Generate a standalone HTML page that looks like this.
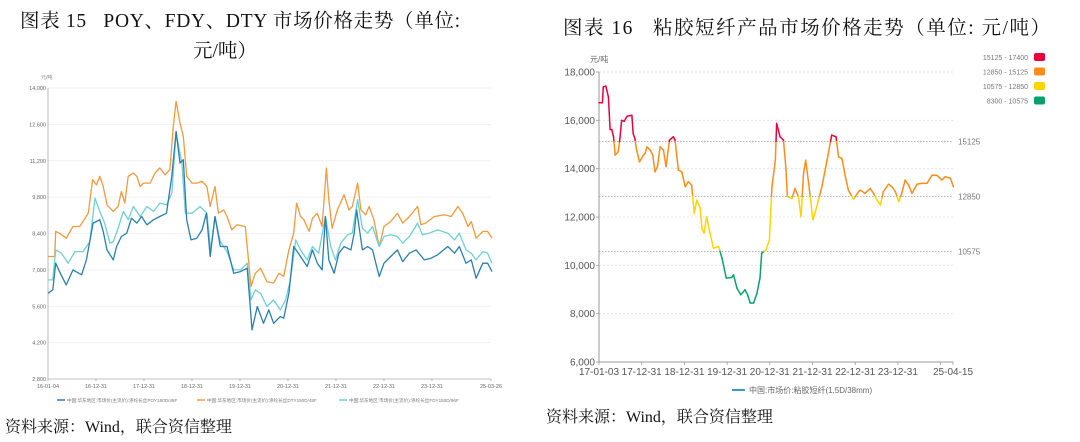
<!DOCTYPE html>
<html><head><meta charset="utf-8"><style>
html,body{margin:0;padding:0;background:#fff;width:1080px;height:442px;overflow:hidden}
svg{display:block}
.t{font-family:"Liberation Serif","Noto Serif CJK SC",serif;fill:#111;white-space:pre}
.s{font-family:"Liberation Sans","Noto Sans CJK SC",sans-serif}
</style></head><body>
<svg id="root" width="1080" height="442" viewBox="0 0 1080 442" xmlns="http://www.w3.org/2000/svg">
<text class="t" x="20" y="27" font-size="19.5" textLength="440" lengthAdjust="spacing">图表 15   POY、FDY、DTY 市场价格走势（单位:</text>
<text class="t" x="193" y="57" font-size="19.5">元/吨）</text>
<text class="t" x="563" y="34" font-size="19.5" textLength="487" lengthAdjust="spacing">图表 16   粘胶短纤产品市场价格走势（单位: 元/吨）</text>
<text class="t" x="5" y="432" font-size="16">资料来源：Wind，联合资信整理</text>
<text class="t" x="546" y="422" font-size="16">资料来源：Wind，联合资信整理</text>
<g id="left"></g>
<g id="right"></g>
</svg>
<script>
// ---------- Left chart data (years since 2016-01-01, price yuan/t) ----------
const leftTicksY = [2800,4200,5600,7000,8400,9800,11200,12600,14000];
const leftTickLabelsY = ["2,800","4,200","5,600","7,000","8,400","9,800","11,200","12,600","14,000"];
const leftTicksX = [0,1,2,3,4,5,6,7,8,9.23];
const leftTickLabelsX = ["16-01-04","16-12-31","17-12-31","18-12-31","19-12-31","20-12-31","21-12-31","22-12-31","23-12-31","25-03-26"];
const dtyT = [0,.14,.16,.24,.38,.52,.66,.84,.93,1.01,1.08,1.15,1.23,1.36,1.46,1.53,1.60,1.67,1.78,1.85,1.92,1.99,2.13,2.23,2.33,2.44,2.54,2.61,2.67,2.75,2.82,2.89,3.00,3.10,3.21,3.31,3.38,3.48,3.55,3.66,3.73,3.83,3.94,4.11,4.15,4.23,4.32,4.43,4.56,4.70,4.81,4.91,5.02,5.12,5.18,5.26,5.33,5.44,5.51,5.61,5.71,5.80,5.85,5.92,6.03,6.17,6.27,6.34,6.45,6.52,6.62,6.69,6.79,6.90,7.00,7.14,7.28,7.39,7.53,7.70,7.77,7.87,8.05,8.26,8.40,8.54,8.64,8.75,8.82,8.92,9.06,9.16,9.25];
const dtyV = [7515,7515,8480,8410,8220,8670,8670,9180,10470,10275,10600,10210,9505,9250,9440,10020,9570,10600,10725,10600,10210,10340,10340,10725,10920,10660,10860,12520,13490,12650,12140,10600,10340,10340,10410,10210,9440,10210,9180,9310,9055,8540,8735,8670,7900,6360,6870,7065,6550,6490,6870,6745,7770,8410,9570,9055,8930,8480,8990,9180,8670,10920,9700,8605,9310,9890,9310,9440,10340,9310,9120,9440,8930,7900,8670,8860,9180,8800,9055,9440,8735,8800,9055,9120,9055,9440,9180,8670,8860,8220,8480,8480,8220];
const poyT = [0,.10,.16,.24,.38,.52,.70,.80,.94,1.01,1.08,1.15,1.23,1.36,1.43,1.53,1.64,1.74,1.85,1.95,2.06,2.20,2.33,2.47,2.58,2.67,2.75,2.82,2.89,2.98,3.10,3.21,3.30,3.38,3.48,3.59,3.73,3.87,4.01,4.15,4.22,4.25,4.36,4.49,4.60,4.70,4.84,4.91,5.02,5.12,5.26,5.40,5.51,5.61,5.71,5.78,5.85,5.96,6.06,6.17,6.31,6.38,6.43,6.55,6.66,6.76,6.90,7.00,7.14,7.28,7.39,7.53,7.67,7.84,7.98,8.12,8.33,8.47,8.57,8.71,8.82,8.92,9.06,9.16,9.25];
const poyV = [6100,6230,7255,6935,6420,7000,6810,7385,8800,8860,8930,8480,7770,7385,7900,8285,8410,8990,8800,9055,8735,8930,9055,9180,10600,12330,11110,11240,8930,8155,8220,8540,9180,7515,9055,7900,7900,6870,6935,7065,5460,4690,5590,4945,5460,4945,5200,5140,6100,7900,7515,7130,7770,7255,7000,9055,7385,6870,7640,7900,7770,8410,9310,7770,7900,7770,6745,7255,7515,7770,7320,7640,7770,7385,7450,7580,7900,7640,7900,7255,7385,6680,7255,7255,6935];
const fdyT = [0,.10,.16,.28,.42,.56,.73,.87,.98,1.08,1.18,1.29,1.36,1.46,1.57,1.67,1.78,1.92,2.06,2.20,2.33,2.47,2.58,2.67,2.79,2.86,3.00,3.17,3.31,3.39,3.48,3.59,3.73,3.87,4.01,4.15,4.23,4.32,4.43,4.56,4.70,4.84,4.95,5.05,5.16,5.26,5.40,5.51,5.64,5.78,5.89,5.99,6.10,6.24,6.34,6.45,6.55,6.66,6.76,6.90,7.00,7.14,7.28,7.39,7.53,7.70,7.80,7.94,8.12,8.33,8.47,8.57,8.71,8.82,8.92,9.06,9.16,9.25];
const fdyV = [6615,6615,7770,7640,7255,7705,7705,8090,9760,9250,8800,8030,8090,8605,9250,8930,9440,9055,9440,9250,9570,9505,9955,12270,11110,9180,9180,9440,9180,7770,9055,8090,7705,7000,7000,7255,5850,6230,6100,5590,5845,5460,5845,6615,8155,7770,7385,7900,7640,9055,7900,7385,8030,8350,8410,9700,8605,8410,8670,7900,8285,8350,8285,8030,8285,8800,8350,8410,8540,8410,8155,8410,7770,7640,7385,7705,7640,7255];

// ---------- Right chart data (years since 2017-01-01, price yuan/t) ----------
const rightTicksY = [6000,8000,10000,12000,14000,16000,18000];
const rightTickLabelsY = ["6,000","8,000","10,000","12,000","14,000","16,000","18,000"];
const rightTicksX = [0,1,2,3,4,5,6,7,8,8.29];
const rightTickLabelsX = ["17-01-03","17-12-31","18-12-31","19-12-31","20-12-31","21-12-31","22-12-31","23-12-31","","25-04-15"];
const bandEdges = [10575,12850,15125];
const bandLabels = ["15125 - 17400","12850 - 15125","10575 - 12850","8300 - 10575"];
const vscT = [0,.08,.10,.16,.22,.26,.30,.34,.38,.45,.49,.53,.59,.66,.77,.80,.84,.88,.95,1.04,1.08,1.12,1.20,1.26,1.31,1.37,1.43,1.51,1.57,1.65,1.74,1.78,1.86,1.94,2.02,2.09,2.17,2.23,2.29,2.37,2.41,2.46,2.52,2.60,2.68,2.80,2.88,2.98,3.11,3.15,3.23,3.32,3.42,3.48,3.54,3.62,3.70,3.77,3.81,3.91,3.99,4.05,4.13,4.16,4.24,4.32,4.38,4.41,4.52,4.59,4.67,4.73,4.79,4.84,4.91,5.01,5.10,5.22,5.34,5.45,5.55,5.61,5.69,5.77,5.84,5.96,6.08,6.12,6.23,6.35,6.43,6.51,6.59,6.66,6.78,6.86,6.94,7.02,7.09,7.17,7.25,7.33,7.45,7.56,7.68,7.80,7.91,8.03,8.11,8.23,8.30];
const vscV = [16730,16730,17380,17420,16970,15620,15620,15320,14560,14700,15250,16000,15960,16170,16210,15450,15250,14770,14280,14560,14630,14900,14770,14560,13870,14080,14900,14770,14080,15180,15320,15180,13940,13870,13250,13460,13320,12150,12700,12360,11530,11330,12010,11330,10710,10780,10300,9470,9500,9610,9060,8780,8990,8780,8440,8440,8850,9470,10500,10640,11050,13250,14350,15870,15320,15180,13940,12840,12770,13180,12840,12010,13800,14350,13390,11880,12430,13250,14350,15390,15320,14490,14420,13670,13110,12730,13050,13110,12980,13180,12980,12700,12500,13050,13360,13250,13050,12630,12980,13530,13320,12980,13360,13390,13390,13730,13730,13530,13670,13600,13250];

const NS="http://www.w3.org/2000/svg";
function mk(tag, attrs, parent, txt){const e=document.createElementNS(NS,tag);for(const k in attrs)e.setAttribute(k,attrs[k]);if(txt!==undefined)e.textContent=txt;parent.appendChild(e);return e;}

// ---- Left chart ----
(function(){
  const g=document.getElementById('left');
  const x0=48,x1=491,y0=379,y1=88;
  const xs=t=>x0+(t-0)/(9.23)*(x1-x0);
  const ys=v=>y0-(v-2800)/(14000-2800)*(y0-y1);
  const u=mk('text',{x:41,y:79,'font-size':5,fill:'#888',class:'s'},g,'元/吨');
  
  
  leftTicksY.forEach((v,i)=>{
    if(i>0){const l=mk('line',{x1:x0,x2:x1,y1:ys(v),y2:ys(v),stroke:'#ececec','stroke-width':0.8},g);
      
      }
    const t=mk('text',{x:x0-2,y:ys(v)+2,'font-size':5.5,fill:'#666','text-anchor':'end',class:'s'},g,leftTickLabelsY[i]);
    
    
  });
  const ax=mk('path',{d:`M${x0},${y1}V${y0}H${x1}`,stroke:'#aaa','stroke-width':0.8,fill:'none'},g);
  
  
  leftTicksX.forEach((t,i)=>{
    mk('line',{x1:xs(t),x2:xs(t),y1:y0,y2:y0+2,stroke:'#aaa','stroke-width':0.8},g);
    const tx=mk('text',{x:xs(t),y:y0+9,'font-size':5.5,fill:'#666','text-anchor':'middle',class:'s'},g,leftTickLabelsX[i]);
    
    
  });
  const series=[[poyT,poyV,'#2a7fb0','poy-line'],[dtyT,dtyV,'#f39a3c','dty-line'],[fdyT,fdyV,'#6fd0d4','fdy-line']];
  [series[1],series[2],series[0]].forEach(s=>{
    const d=s[0].map((t,i)=>(i?'L':'M')+xs(t).toFixed(1)+','+ys(s[1][i]).toFixed(1)).join('');
    const p=mk('path',{d:d,stroke:s[2],'stroke-width':1.3,fill:'none','stroke-linejoin':'round'},g);
    
    
  });
  const leg=[[57,'#2a7fb0','中国:华东地区:市场价(主流价):涤纶长丝POY150D/48F'],[197,'#f39a3c','中国:华东地区:市场价(主流价):涤纶长丝DTY150D/48F'],[339,'#6fd0d4','中国:华东地区:市场价(主流价):涤纶长丝FDY150D/96F']];
  leg.forEach(L=>{
    const gg=mk('g',{},g);
    
    
    mk('line',{x1:L[0],x2:L[0]+8,y1:400,y2:400,stroke:L[1],'stroke-width':1.5},gg);
    mk('text',{x:L[0]+10,y:402,'font-size':4.6,fill:'#777',class:'s'},gg,L[2]);
  });
})();

// ---- Right chart ----
(function(){
  const g=document.getElementById('right');
  const x0=599,x1=953,y0=362,y1=72;
  const xs=t=>x0+t/8.29*(x1-x0);
  const ys=v=>y0-(v-6000)/12000*(y0-y1);
  const colors=['#0aa06e','#ffd400','#ff8c1a','#e8003d'];
  const band=v=>v<bandEdges[0]?0:v<bandEdges[1]?1:v<bandEdges[2]?2:3;
  const u=mk('text',{x:590,y:62,'font-size':8,fill:'#666',class:'s'},g,'元/吨');
  
  
  rightTicksY.forEach((v,i)=>{
    if(i>0){const l=mk('line',{x1:x0,x2:x1,y1:ys(v),y2:ys(v),stroke:'#ddd','stroke-width':0.8,'stroke-dasharray':'2,2'},g);
      
      }
    mk('line',{x1:x0-3,x2:x0,y1:ys(v),y2:ys(v),stroke:'#999','stroke-width':0.8},g);
    const t=mk('text',{x:x0-4,y:ys(v)+3.5,'font-size':10,fill:'#555','text-anchor':'end',class:'s'},g,rightTickLabelsY[i]);
    
    
  });
  bandEdges.forEach(v=>{
    const l=mk('line',{x1:x0,x2:x1,y1:ys(v),y2:ys(v),stroke:'#aaa','stroke-width':0.9,'stroke-dasharray':'1.5,1.5'},g);
    
    
    const t=mk('text',{x:x1+5,y:ys(v)+3,'font-size':8,fill:'#777',class:'s'},g,String(v));
    
    
  });
  const ax=mk('path',{d:`M${x0},${y1}V${y0}H${x1}`,stroke:'#999','stroke-width':1,fill:'none'},g);
  
  
  rightTicksX.forEach((t,i)=>{
    mk('line',{x1:xs(t),x2:xs(t),y1:y0,y2:y0+3,stroke:'#999','stroke-width':0.8},g);
    const tx=mk('text',{x:xs(t),y:y0+13,'font-size':10,fill:'#555','text-anchor':'middle',class:'s'},g,rightTickLabelsX[i]);
    
    
  });
  const lg=mk('g',{},g);
  
  
  for(let i=0;i<vscT.length-1;i++){
    let ta=vscT[i],va=vscV[i];const tb=vscT[i+1],vb=vscV[i+1];
    const pts=[[ta,va]];
    const cuts=bandEdges.filter(e=>(e-va)*(e-vb)<0).map(e=>[ta+(e-va)/(vb-va)*(tb-ta),e]);
    cuts.sort((a,b)=>a[0]-b[0]);cuts.forEach(c=>pts.push(c));pts.push([tb,vb]);
    for(let k=0;k<pts.length-1;k++){
      const mv=(pts[k][1]+pts[k+1][1])/2;
      mk('line',{x1:xs(pts[k][0]),y1:ys(pts[k][1]),x2:xs(pts[k+1][0]),y2:ys(pts[k+1][1]),stroke:colors[band(mv)],'stroke-width':1.5,'stroke-linecap':'round'},lg);
    }
  }
  bandLabels.forEach((L,i)=>{
    const gg=mk('g',{},g);
    
    
    const y=57+i*14.5;
    mk('text',{x:1028,y:y+3,'font-size':7,fill:'#777','text-anchor':'end',class:'s'},gg,L);
    mk('rect',{x:1034,y:y-4,width:11,height:8,rx:2,fill:colors[3-i]},gg);
  });
  const lgg=mk('g',{},g);
  
  
  mk('line',{x1:732,x2:745,y1:390,y2:390,stroke:'#1f8fc9','stroke-width':1.8},lgg);
  mk('text',{x:749,y:393,'font-size':8,fill:'#666',class:'s'},lgg,'中国:市场价:粘胶短纤(1.5D/38mm)');
})();
</script>
</body></html>
